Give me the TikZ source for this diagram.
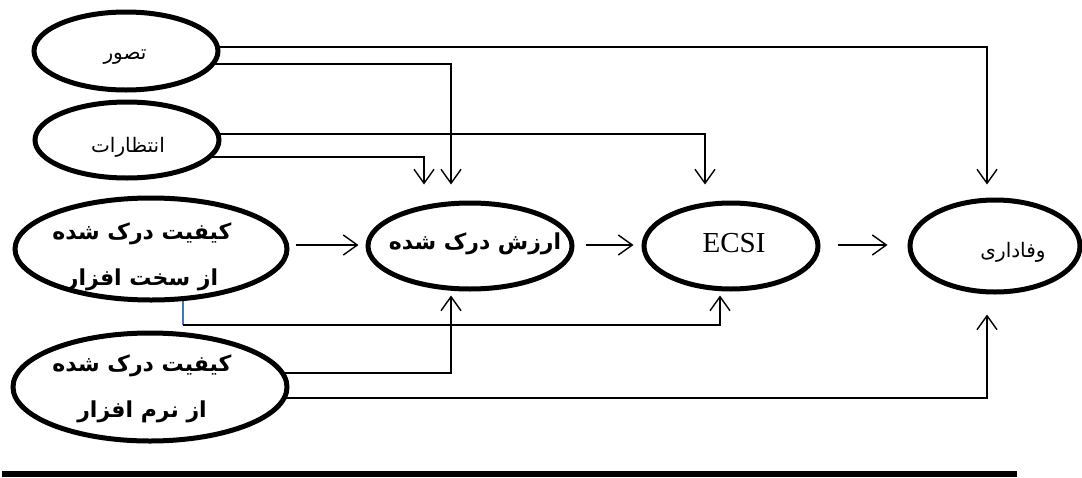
\documentclass[tikz,border=0pt]{standalone}
\usepackage{fontspec}
\setmainfont{Liberation Serif}
\newfontfamily\fa[Script=Arabic]{DejaVu Sans}
\TeXXeTstate=1
\usetikzlibrary{arrows.meta,shapes.geometric,backgrounds}
\definecolor{lineblue}{RGB}{68,114,196}
\tikzset{
  oval/.style={ellipse, draw=black, line width=5pt, fill=white, inner sep=0pt},
  conn/.style={line width=1.4pt, draw=black},
  arr/.style={conn, -{Straight Barb[length=14pt,width=20pt,line width=1.4pt]}},
  lbl/.style={font=\fa\fontsize{20}{24}\selectfont, align=center},
  blbl/.style={font=\fa\bfseries\fontsize{22}{46}\selectfont, align=center},
}
\begin{document}
\begin{tikzpicture}[x=1pt,y=-1pt]
\useasboundingbox (0,0) rectangle (1082,477);
% nodes
\node[oval, minimum width=184pt, minimum height=78pt] (ts) at (126,51) {};
\node[lbl] (tsL) at (125,57) {\beginR تصور\endR};
\node[oval, minimum width=184pt, minimum height=76pt] (ex) at (127,140) {};
\node[lbl] (exL) at (128,147) {\beginR انتظارات\endR};
\node[oval, minimum width=272pt, minimum height=102pt] (hw) at (151,249) {};
\node[blbl] (hwL) at (142,257) {\beginR کیفیت درک شده\endR\\\beginR از سخت افزار\endR};
\node[oval, minimum width=274pt, minimum height=108pt] (sw) at (150,387) {};
\node[blbl] (swL) at (142,389) {\beginR کیفیت درک شده\endR\\\beginR از نرم افزار\endR};
\node[oval, minimum width=204pt, minimum height=86pt] (val) at (470,246) {};
\node[blbl] (valL) at (475,244) {\beginR ارزش درک شده\endR};
\node[oval, minimum width=174pt, minimum height=86pt] (ecsi) at (731,246) {};
\node[font=\fontsize{29}{32}\selectfont] (ecsiL) at (734,243) {ECSI};
\node[oval, minimum width=170pt, minimum height=92pt] (loy) at (995,246) {};
\node[lbl] (loyL) at (1013,252) {\beginR وفاداری\endR};
% connectors
\begin{scope}[on background layer]
\draw[arr, shorten >=13pt] ([yshift=4pt]ts.center) -| ([xshift=-8pt]loy.north);
\draw[arr, shorten >=16pt] ([yshift=-13pt]ts.center) -| ([xshift=-19pt]val.north);
\draw[arr, shorten >=16pt] ([yshift=6pt]ex.center) -| ([xshift=-26pt]ecsi.north);
\draw[arr, shorten >=16pt] ([yshift=-17pt]ex.center) -| ([xshift=-46pt]val.north);
\draw[arr, shorten >=4pt] ([yshift=14pt]sw.center) -| ([xshift=-19pt]val.south);
\draw[arr, shorten >=20pt] ([yshift=-11pt]sw.center) -| ([xshift=-8pt]loy.south);
\draw[conn, draw=lineblue] ([xshift=32pt]hw.center) -- ([xshift=32pt,yshift=-76pt]hw.center) coordinate (hwb);
\draw[arr, shorten >=4pt] (hwb) -| ([xshift=-11pt]ecsi.south);
\end{scope}
\draw[arr, shorten <=6pt, shorten >=7pt] ([yshift=4pt]hw.east) -- ([yshift=1pt]val.west);
\draw[arr, shorten <=11pt, shorten >=8pt] ([yshift=1pt]val.east) -- ([yshift=1pt]ecsi.west);
\draw[arr, shorten <=17pt, shorten >=20pt] ([yshift=1pt]ecsi.east) -- ([yshift=1pt]loy.west);
% bottom rule
\fill (2,471) rectangle (1017,477);
\end{tikzpicture}
\end{document}
